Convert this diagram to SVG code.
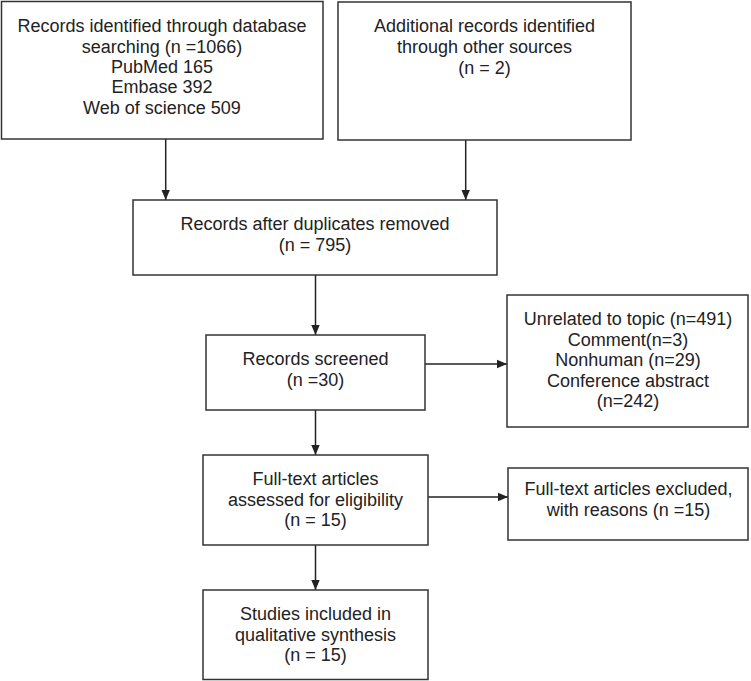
<svg xmlns="http://www.w3.org/2000/svg" width="751" height="681" viewBox="0 0 751 681">
<defs>
<marker id="ah" markerUnits="userSpaceOnUse" markerWidth="10" markerHeight="10" viewBox="0 0 10 10" refX="10" refY="5" orient="auto">
<path d="M0,0.8 L10,5 L0,9.2 Z" fill="#222"/>
</marker>
<style>
.box{fill:#fff;stroke:#333;stroke-width:1.5}
.t{font-family:"Liberation Sans",Arial,sans-serif;font-size:18px;fill:#222;text-anchor:middle}
.c{stroke:#222;stroke-width:1.5;fill:none;marker-end:url(#ah)}
</style>
</defs>
<rect width="751" height="681" fill="#fff"/>
<g id="connectors">
<line class="c" x1="165.7" y1="139" x2="165.7" y2="200"/>
<line class="c" x1="465.7" y1="140" x2="465.7" y2="200"/>
<line class="c" x1="315.5" y1="275" x2="315.5" y2="335"/>
<line class="c" x1="425" y1="364" x2="507" y2="364"/>
<line class="c" x1="315.5" y1="410" x2="315.5" y2="455"/>
<line class="c" x1="428" y1="497" x2="508" y2="497"/>
<line class="c" x1="315.5" y1="545" x2="315.5" y2="590"/>
</g>
<g id="n1">
<rect class="box" x="1.5" y="1.5" width="321.5" height="137.5"/>
<text class="t" x="162" y="32">Records identified through database</text>
<text class="t" x="162" y="52.5">searching (n =1066)</text>
<text class="t" x="162" y="73">PubMed 165</text>
<text class="t" x="162" y="93">Embase 392</text>
<text class="t" x="162" y="113.5">Web of science 509</text>
</g>
<g id="n2">
<rect class="box" x="338" y="2" width="293" height="138"/>
<text class="t" x="484.5" y="32">Additional records identified</text>
<text class="t" x="484.5" y="52.5">through other sources</text>
<text class="t" x="484.5" y="73.5">(n = 2)</text>
</g>
<g id="n3">
<rect class="box" x="133" y="200" width="364" height="75"/>
<text class="t" x="315" y="230">Records after duplicates removed</text>
<text class="t" x="315" y="250.5">(n = 795)</text>
</g>
<g id="n4">
<rect class="box" x="206" y="335" width="219" height="75"/>
<text class="t" x="315.5" y="365">Records screened</text>
<text class="t" x="315.5" y="385.5">(n =30)</text>
</g>
<g id="n5">
<rect class="box" x="507" y="295" width="241" height="132"/>
<text class="t" x="628" y="325">Unrelated to topic (n=491)</text>
<text class="t" x="628" y="345.5">Comment(n=3)</text>
<text class="t" x="628" y="366">Nonhuman (n=29)</text>
<text class="t" x="628" y="386.5">Conference abstract</text>
<text class="t" x="628" y="407">(n=242)</text>
</g>
<g id="n6">
<rect class="box" x="203" y="455" width="225" height="90"/>
<text class="t" x="315.5" y="485">Full-text articles</text>
<text class="t" x="315.5" y="505.5">assessed for eligibility</text>
<text class="t" x="315.5" y="526">(n = 15)</text>
</g>
<g id="n7">
<rect class="box" x="508" y="468" width="240" height="72"/>
<text class="t" x="628.5" y="495">Full-text articles excluded,</text>
<text class="t" x="628.5" y="516">with reasons (n =15)</text>
</g>
<g id="n8">
<rect class="box" x="203" y="590" width="225" height="89.5"/>
<text class="t" x="315.5" y="620">Studies included in</text>
<text class="t" x="315.5" y="640.5">qualitative synthesis</text>
<text class="t" x="315.5" y="661">(n = 15)</text>
</g>
</svg>
